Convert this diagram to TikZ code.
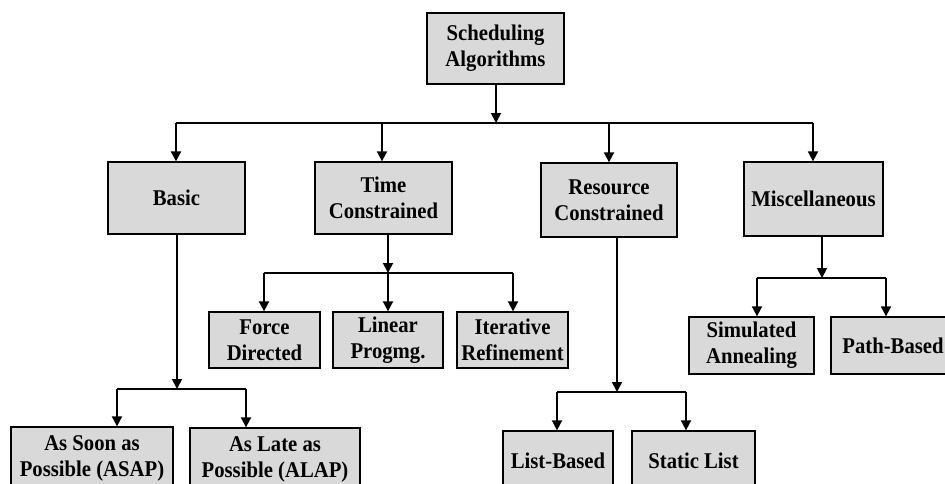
\documentclass[tikz,border=0pt]{standalone}
\usepackage{fontspec}
\setmainfont{Liberation Serif}[FakeStretch=0.92]
\usetikzlibrary{arrows.meta}
\definecolor{boxgray}{HTML}{D9D9D9}
\tikzset{
  blk/.style={draw=black, line width=1.3pt, fill=boxgray, align=center,
    inner sep=0pt, font=\bfseries\fontsize{22.5}{26}\selectfont},
  link/.style={line width=1.8pt},
  arr/.style={link, -{Triangle[length=10pt,width=10pt]}}
}
\newcommand{\blkat}[5]{\node[blk, minimum width=#3pt, minimum height=#4pt] (#1) at (#2) {#5};}
\begin{document}
\begin{tikzpicture}[x=1pt,y=-1pt]
\clip (0,0) rectangle (945,483);
\fill[white] (0,0) rectangle (945,483);

% boxes
\blkat{top}{495.5,48.5}{137}{71}{Scheduling\\Algorithms}
\blkat{basic}{176.5,198}{137}{72}{Basic}
\blkat{time}{383.5,198}{137}{72}{Time\\Constrained}
\blkat{res}{609,200}{136}{74}{Resource\\Constrained}
\blkat{misc}{813.5,199}{139}{74}{Miscellaneous}
\blkat{force}{264.5,340}{111}{56}{Force\\Directed}
\blkat{linear}{388,340}{110}{56}{Linear\\Progmg.}
\blkat{iter}{512.5,340}{111}{56}{Iterative\\Refinement}
\blkat{sim}{751.5,345.5}{125}{57}{Simulated\\Annealing}
\blkat{path}{893,345.5}{124}{57}{Path-Based}
\blkat{asap}{92,458}{162}{62}{As Soon as\\Possible (ASAP)}
\blkat{alap}{275,459}{170}{62}{As Late as\\Possible (ALAP)}
\blkat{list}{558,461}{110}{60}{List-Based}
\blkat{static}{693.5,461}{123}{60}{Static List}

% junction points on the horizontal bars
\coordinate (j0) at (496,123);
\coordinate (j0a) at (176,123);  \coordinate (j0b) at (382,123);
\coordinate (j0c) at (609,123);  \coordinate (j0d) at (813,123);
\coordinate (j1) at (177,389);
\coordinate (j1a) at (117,389);  \coordinate (j1b) at (246,389);
\coordinate (j2) at (388,273);
\coordinate (j2a) at (264,273);  \coordinate (j2b) at (513,273);
\coordinate (j3) at (617,392);
\coordinate (j3a) at (557,392);  \coordinate (j3b) at (686,392);
\coordinate (j4) at (822,278);
\coordinate (j4a) at (757,278);  \coordinate (j4b) at (886,278);

% top level
\draw[arr] (j0 |- top.south) -- (j0);
\draw[link] (j0a) -- (j0d);
\draw[arr] (j0a) -- (j0a |- basic.north);
\draw[arr] (j0b) -- (j0b |- time.north);
\draw[arr] (j0c) -- (j0c |- res.north);
\draw[arr] (j0d) -- (j0d |- misc.north);

% basic
\draw[arr] (j1 |- basic.south) -- (j1);
\draw[link] (j1a) -- (j1b);
\draw[arr] (j1a) -- (j1a |- asap.north);
\draw[arr] (j1b) -- (j1b |- alap.north);

% time constrained
\draw[arr] (j2 |- time.south) -- (j2);
\draw[link] (j2a) -- (j2b);
\draw[arr] (j2a) -- (j2a |- force.north);
\draw[arr] (j2) -- (j2 |- linear.north);
\draw[arr] (j2b) -- (j2b |- iter.north);

% resource constrained
\draw[arr] (j3 |- res.south) -- (j3);
\draw[link] (j3a) -- (j3b);
\draw[arr] (j3a) -- (j3a |- list.north);
\draw[arr] (j3b) -- (j3b |- static.north);

% miscellaneous
\draw[arr] (j4 |- misc.south) -- (j4);
\draw[link] (j4a) -- (j4b);
\draw[arr] (j4a) -- (j4a |- sim.north);
\draw[arr] (j4b) -- (j4b |- path.north);
\end{tikzpicture}
\end{document}
